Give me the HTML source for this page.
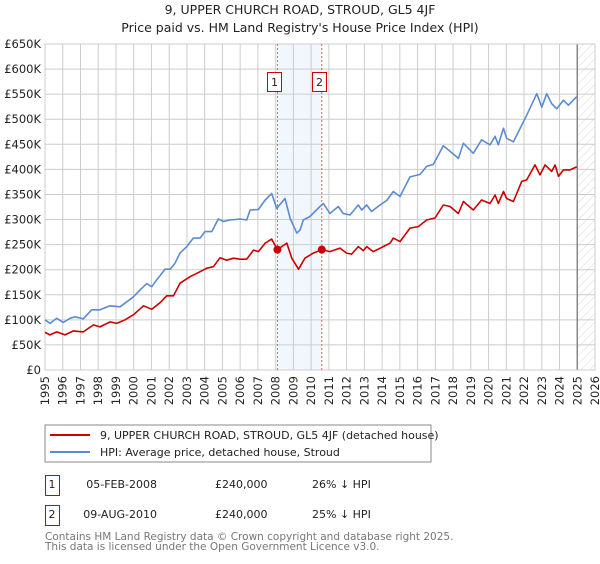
<!DOCTYPE html>
<html><head><meta charset="utf-8"><style>
body{margin:0;background:#fff;width:600px;height:560px;overflow:hidden;font-family:"DejaVu Sans","Liberation Sans",sans-serif;}
svg text{font-family:"DejaVu Sans","Liberation Sans",sans-serif;}
</style></head><body>
<svg id="c" width="600" height="560" xmlns="http://www.w3.org/2000/svg">
<defs><pattern id="hatch" width="6" height="6" patternUnits="userSpaceOnUse" patternTransform="rotate(45)"><line x1="0" y1="0" x2="0" y2="6" stroke="#ccc" stroke-width="0.8"/></pattern></defs>
<text x="300" y="14" text-anchor="middle" font-size="12.5" fill="#222">9, UPPER CHURCH ROAD, STROUD, GL5 4JF</text>
<text x="300" y="32" text-anchor="middle" font-size="12.5" fill="#222">Price paid vs. HM Land Registry's House Price Index (HPI)</text>
<g id="grid"></g><g id="axes"></g><g id="series"></g>
<g>
<rect x="45" y="425" width="386" height="37" fill="#fff" stroke="#888"/>
<line x1="50" y1="435" x2="90" y2="435" stroke="#cc0000" stroke-width="2"/>
<text x="100" y="439" font-size="11" fill="#222">9, UPPER CHURCH ROAD, STROUD, GL5 4JF (detached house)</text>
<line x1="50" y1="452" x2="90" y2="452" stroke="#5b8bd0" stroke-width="2"/>
<text x="100" y="456" font-size="11" fill="#222">HPI: Average price, detached house, Stroud</text>
</g>
<g font-size="11" fill="#222">
<rect x="45.5" y="475.5" width="14" height="20" fill="#fff" stroke="#c00"/><text x="52" y="488" text-anchor="middle">1</text>
<text x="157" y="488" text-anchor="end">05-FEB-2008</text><text x="215" y="488">£240,000</text><text x="312" y="488">26% ↓ HPI</text>
<rect x="45.5" y="505.5" width="14" height="20" fill="#fff" stroke="#c00"/><text x="52" y="518" text-anchor="middle">2</text>
<text x="157" y="518" text-anchor="end">09-AUG-2010</text><text x="215" y="518">£240,000</text><text x="312" y="518">25% ↓ HPI</text>
</g>
<text x="45" y="540" font-size="10.5" fill="#777">Contains HM Land Registry data © Crown copyright and database right 2025.</text>
<text x="45" y="550" font-size="10.5" fill="#777">This data is licensed under the Open Government Licence v3.0.</text>
</svg>
<script>
const yTicks=[0,50,100,150,200,250,300,350,400,450,500,550,600,650];
const yTickLabels=["£0","£50K","£100K","£150K","£200K","£250K","£300K","£350K","£400K","£450K","£500K","£550K","£600K","£650K"];
const xYears=[1995,1996,1997,1998,1999,2000,2001,2002,2003,2004,2005,2006,2007,2008,2009,2010,2011,2012,2013,2014,2015,2016,2017,2018,2019,2020,2021,2022,2023,2024,2025,2026];
const hpiYears=[1995,1995.28,1995.66,1996.03,1996.41,1996.69,1997.16,1997.63,1998.1,1998.67,1999.23,1999.61,1999.98,2000.36,2000.73,2001.02,2001.3,2001.77,2002.05,2002.33,2002.61,2002.99,2003.36,2003.74,2004.02,2004.4,2004.77,2005.06,2005.43,2006,2006.37,2006.56,2007.03,2007.41,2007.78,2008.06,2008.53,2008.82,2009.19,2009.37,2009.56,2009.93,2010.5,2010.69,2011.06,2011.53,2011.81,2012.19,2012.66,2012.85,2013.13,2013.41,2013.88,2014.26,2014.63,2015.01,2015.57,2016.14,2016.51,2016.89,2017.45,2017.83,2018.3,2018.58,2019.14,2019.61,2020.08,2020.37,2020.55,2020.84,2021.02,2021.4,2021.87,2022.15,2022.72,2023,2023.28,2023.56,2023.84,2024.22,2024.5,2024.97];
const hpiValues=[100,93,103,95,103,106,102,120,120,128,126,136,146,160,172,166,180,201,201,213,233,246,263,263,276,276,301,296,299,301,299,319,320,339,352,322,342,302,273,279,299,306,326,332,312,326,312,309,329,319,329,316,329,338,356,346,385,390,406,410,447,436,422,452,432,459,449,466,449,482,462,455,488,508,551,524,551,531,521,538,528,545];
const ppYears=[1995,1995.28,1995.66,1996.13,1996.6,1997.16,1997.73,1998.1,1998.67,1999.04,1999.51,1999.98,2000.55,2001.02,2001.48,2001.86,2002.24,2002.61,2003.18,2003.74,2004.12,2004.49,2004.87,2005.24,2005.62,2006,2006.37,2006.75,2007.03,2007.41,2007.78,2008.1,2008.63,2008.91,2009.29,2009.37,2009.65,2010.12,2010.6,2011.06,2011.63,2012,2012.28,2012.66,2012.94,2013.13,2013.5,2014.07,2014.45,2014.63,2015.01,2015.57,2016.04,2016.51,2016.98,2017.45,2017.83,2018.3,2018.58,2019.14,2019.61,2020.08,2020.37,2020.55,2020.84,2021.02,2021.4,2021.87,2022.15,2022.62,2022.9,2023.19,2023.56,2023.75,2023.94,2024.22,2024.59,2024.97];
const ppValues=[75,70,76,70,78,76,90,86,96,93,100,110,128,121,134,148,148,173,186,196,203,206,224,219,223,221,221,239,236,253,261,240,253,223,201,206,223,233,240,236,243,233,231,246,238,246,236,246,253,263,256,283,286,299,303,329,326,312,336,319,339,332,349,332,356,342,336,376,379,409,389,409,396,409,386,399,399,405];
const saleYears=[2008.1,2010.6];
const saleValues=[240,240];
const saleLabels=["1","2"];
const L=45,R=595,T=44,B=370,Y0=1995,Y1=2026,VMAX=650;
const xs=y=>L+(y-Y0)/(Y1-Y0)*(R-L);
const ys=v=>B-v/VMAX*(B-T);
const NS="http://www.w3.org/2000/svg";
function mk(parent,tag,attrs){const e=document.createElementNS(NS,tag);for(const k in attrs)e.setAttribute(k,attrs[k]);parent.appendChild(e);return e;}
const grid=document.getElementById('grid'),axes=document.getElementById('axes'),series=document.getElementById('series');
let sh=mk(grid,'rect',{x:xs(saleYears[0]),y:T,width:xs(saleYears[1])-xs(saleYears[0]),height:B-T,fill:'#f2f6fd'});


let ht=mk(grid,'rect',{x:xs(2025),y:T,width:R-xs(2025),height:B-T,fill:'url(#hatch)'});


yTicks.forEach((v,i)=>{
 let l=mk(grid,'line',{x1:L,x2:R,y1:ys(v),y2:ys(v),stroke:'#ccc','stroke-width':1});
 
 
 let t=mk(axes,'text',{x:L-4,y:ys(v)+4,'text-anchor':'end','font-size':11.5,fill:'#222'});
 t.textContent=yTickLabels[i];
 
 
});
xYears.forEach(yr=>{
 let l=mk(grid,'line',{x1:xs(yr),x2:xs(yr),y1:T,y2:B,stroke:'#ccc','stroke-width':1});
 
 
 let t=mk(axes,'text',{x:0,y:0,'text-anchor':'end','font-size':11.5,fill:'#222',transform:`translate(${xs(yr)+4},${B+6}) rotate(-90)`});
 t.textContent=yr;
 
 
});
let ln=mk(grid,'line',{x1:xs(2025),x2:xs(2025),y1:T,y2:B,stroke:'#888','stroke-width':1.5});


let fr=mk(grid,'rect',{x:L,y:T,width:R-L,height:B-T,fill:'none',stroke:'#ccc'});


saleYears.forEach((yr,i)=>{
 let d=mk(grid,'line',{x1:xs(yr),x2:xs(yr),y1:T,y2:B,stroke:'#e06060','stroke-dasharray':'2,2','stroke-width':1});
 
 
});
function path(xa,va,color,name){
 const d=xa.map((y,i)=>(i?'L':'M')+xs(y).toFixed(1)+','+ys(va[i]).toFixed(1)).join('');
 let p=mk(series,'path',{d:d,fill:'none',stroke:color,'stroke-width':1.6,'stroke-linejoin':'round'});
 
 
}
path(hpiYears,hpiValues,'#5b8bd0','hpi-line');
path(ppYears,ppValues,'#cc0000','price-paid-line');
saleYears.forEach((yr,i)=>{
 let c=mk(series,'circle',{cx:xs(yr),cy:ys(saleValues[i]),r:4,fill:'#cc0000'});
 
 
 let g=mk(series,'g',{});
 
 
 mk(g,'rect',{x:Math.round(xs(yr))-9.5,y:72.5,width:14,height:19,fill:'#fff',stroke:'#c00'});
 let t=mk(g,'text',{x:Math.round(xs(yr))-2.5,y:86,'text-anchor':'middle','font-size':11,fill:'#222'});
 t.textContent=saleLabels[i];
});
</script>
</body></html>
